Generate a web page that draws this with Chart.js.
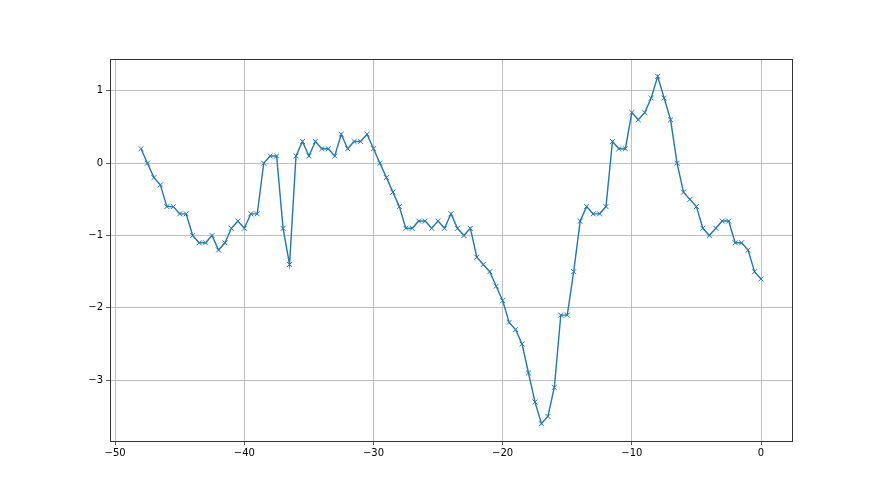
<!DOCTYPE html>
<html>
<head>
<meta charset="utf-8">
<script src="https://cdn.jsdelivr.net/npm/chart.js@4/dist/chart.umd.min.js"></script>
<style>
  html, body { margin: 0; padding: 0; background: #fff; }
  canvas { display: block; }
</style>
</head>
<body>
<canvas id="chart" width="880" height="495"></canvas>
<script>
// x positions: every half step from -48 to 0
const xValues = [
  -48, -47.5, -47, -46.5, -46, -45.5, -45, -44.5, -44, -43.5,
  -43, -42.5, -42, -41.5, -41, -40.5, -40, -39.5, -39, -38.5,
  -38, -37.5, -37, -36.5, -36, -35.5, -35, -34.5, -34, -33.5,
  -33, -32.5, -32, -31.5, -31, -30.5, -30, -29.5, -29, -28.5,
  -28, -27.5, -27, -26.5, -26, -25.5, -25, -24.5, -24, -23.5,
  -23, -22.5, -22, -21.5, -21, -20.5, -20, -19.5, -19, -18.5,
  -18, -17.5, -17, -16.5, -16, -15.5, -15, -14.5, -14, -13.5,
  -13, -12.5, -12, -11.5, -11, -10.5, -10, -9.5, -9, -8.5,
  -8, -7.5, -7, -6.5, -6, -5.5, -5, -4.5, -4, -3.5,
  -3, -2.5, -2, -1.5, -1, -0.5, 0
];
const yValues = [
  0.2, 0.0, -0.2, -0.3, -0.6, -0.6, -0.7, -0.7, -1.0, -1.1,
  -1.1, -1.0, -1.2, -1.1, -0.9, -0.8, -0.9, -0.7, -0.7, 0.0,
  0.1, 0.1, -0.9, -1.4, 0.1, 0.3, 0.1, 0.3, 0.2, 0.2,
  0.1, 0.4, 0.2, 0.3, 0.3, 0.4, 0.2, 0.0, -0.2, -0.4,
  -0.6, -0.9, -0.9, -0.8, -0.8, -0.9, -0.8, -0.9, -0.7, -0.9,
  -1.0, -0.9, -1.3, -1.4, -1.5, -1.7, -1.9, -2.2, -2.3, -2.5,
  -2.9, -3.3, -3.6, -3.5, -3.1, -2.1, -2.1, -1.5, -0.8, -0.6,
  -0.7, -0.7, -0.6, 0.3, 0.2, 0.2, 0.7, 0.6, 0.7, 0.9,
  1.2, 0.9, 0.6, 0.0, -0.4, -0.5, -0.6, -0.9, -1.0, -0.9,
  -0.8, -0.8, -1.1, -1.1, -1.2, -1.5, -1.6
];
const xTicks = [-50, -40, -30, -20, -10, 0];
const yTicks = [-3, -2, -1, 0, 1];

const points = xValues.map((x, i) => ({ x: x, y: yValues[i] }));
const minus = v => String(v).replace('-', '\u2212');

// matplotlib style closed frame around the plot area
const framePlugin = {
  id: 'frame',
  afterDraw(chart) {
    const a = chart.chartArea;
    const c = chart.ctx;
    c.save();
    c.strokeStyle = '#333';
    c.lineWidth = 1;
    c.strokeRect(Math.round(a.left) + 0.5, Math.round(a.top) + 0.5,
      Math.round(a.right - a.left), Math.round(a.bottom - a.top));
    c.restore();
  }
};

new Chart(document.getElementById('chart').getContext('2d'), {
  type: 'line',
  data: {
    datasets: [{
      data: points,
      borderColor: '#1f77b4',
      borderWidth: 1.4,
      pointStyle: 'crossRot',
      pointRadius: 3.5,
      pointBorderWidth: 1,
      pointBorderColor: '#1f77b4',
      pointBackgroundColor: '#1f77b4',
      fill: false,
      tension: 0
    }]
  },
  options: {
    responsive: false,
    animation: false,
    layout: { padding: { left: 70, right: 88, top: 59, bottom: 24 } },
    plugins: {
      legend: { display: false },
      tooltip: { enabled: false }
    },
    scales: {
      x: {
        type: 'linear',
        min: -50.4,
        max: 2.4,
        afterBuildTicks: s => { s.ticks = xTicks.map(v => ({ value: v })); },
        afterFit: s => { s.height = 30; },
        grid: { color: '#b0b0b0', lineWidth: 0.8, tickColor: '#333', tickLength: 4 },
        border: { display: false },
        ticks: {
          color: '#000',
          font: { family: 'DejaVu Sans', size: 10 },
          padding: 2,
          maxRotation: 0,
          callback: v => minus(v)
        }
      },
      y: {
        type: 'linear',
        min: -3.84,
        max: 1.44,
        afterBuildTicks: s => { s.ticks = yTicks.map(v => ({ value: v })); },
        afterFit: s => { s.width = 40; },
        grid: { color: '#b0b0b0', lineWidth: 0.8, tickColor: '#333', tickLength: 4 },
        border: { display: false },
        ticks: {
          color: '#000',
          font: { family: 'DejaVu Sans', size: 10 },
          padding: 3,
          callback: v => minus(v)
        }
      }
    }
  },
  plugins: [framePlugin]
});
</script>
</body>
</html>
